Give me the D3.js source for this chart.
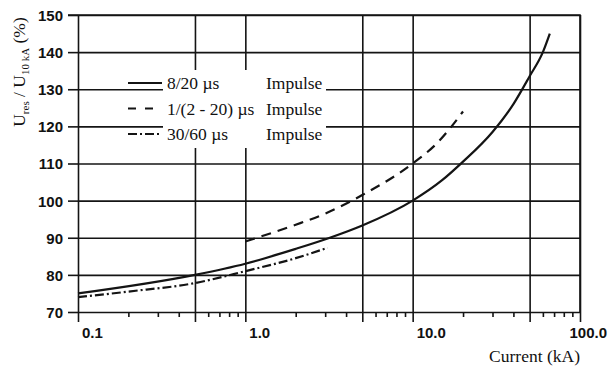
<!DOCTYPE html>
<html>
<head>
<meta charset="utf-8">
<script src="https://cdn.jsdelivr.net/npm/d3@7"></script>
<style>
  html, body { margin: 0; padding: 0; background: #fff; }
  svg { display: block; }
  .tick-label { font-family: "Liberation Sans", Arial, sans-serif; font-weight: bold; font-size: 15px; fill: #111; }
  .serif { font-family: "Liberation Serif", "Times New Roman", serif; font-size: 17.5px; fill: #111; }
</style>
</head>
<body>
<svg id="chart" width="609" height="367"></svg>
<script>
// Data (current in kA, residual voltage in %)
const current_8_20 = [0.1, 0.5, 1, 2, 3.2, 5, 10, 15, 20, 30, 40, 50, 60, 66];
const ures_8_20 = [75, 80, 83, 87, 90, 93.3, 100, 105.5, 110.5, 118.5, 126, 133.5, 140, 145];

const current_1_2_20 = [1, 2, 3, 5, 10, 14, 20];
const ures_1_2_20 = [89, 93.5, 96.5, 101.5, 110, 115.5, 124];

const current_30_60 = [0.1, 0.2, 0.5, 1, 2, 3.1];
const ures_30_60 = [74, 75.5, 77.8, 81, 84.5, 87.3];

const yTicks = [70, 80, 90, 100, 110, 120, 130, 140, 150];
const xGridTicks = [0.1, 0.5, 1, 5, 10, 50, 100];
const xLabelTicks = [0.1, 1, 10, 100];
const xLabels = ["0.1", "1.0", "10.0", "100.0"];
const xMinorTicks = [0.2, 0.3, 0.4, 0.6, 0.7, 0.8, 0.9, 2, 3, 4, 6, 7, 8, 9, 20, 30, 40, 60, 70, 80, 90];

const legendNames = ["8/20 \u00b5s", "1/(2 - 20) \u00b5s", "30/60 \u00b5s"];
const legendKind = "Impulse";

const width = 609, height = 367;
const margin = { top: 15, right: 29, bottom: 55, left: 78 };
const ink = "#141414";

const svg = d3.select("#chart");

const x = d3.scaleLog()
  .domain([0.1, 100])
  .range([margin.left, width - margin.right]);

const y = d3.scaleLinear()
  .domain([70, 150])
  .range([height - margin.bottom, margin.top]);

// Horizontal grid lines (stick out left as ticks)
svg.append("g")
  .attr("transform", `translate(${margin.left},0)`)
  .call(d3.axisLeft(y).tickValues(yTicks).tickSize(10).tickPadding(5).tickFormat(d3.format("d")))
  .call(g => g.select(".domain").remove())
  .call(g => g.selectAll(".tick line").clone()
    .attr("x2", width - margin.left - margin.right))
  .call(g => g.selectAll(".tick line").attr("stroke", ink).attr("stroke-width", 1.6))
  .call(g => g.selectAll(".tick text").attr("class", "tick-label").attr("dy", "0.36em"));

// Vertical grid lines (stick out down as ticks)
svg.append("g")
  .attr("transform", `translate(0,${height - margin.bottom})`)
  .call(d3.axisBottom(x).tickValues(xGridTicks).tickSize(10).tickFormat(() => ""))
  .call(g => g.select(".domain").remove())
  .call(g => g.selectAll(".tick line").clone()
    .attr("y2", -(height - margin.top - margin.bottom)))
  .call(g => g.selectAll(".tick line").attr("stroke", ink).attr("stroke-width", 1.6));

// Minor ticks
svg.append("g")
  .attr("transform", `translate(0,${height - margin.bottom})`)
  .call(d3.axisBottom(x).tickValues(xMinorTicks).tickSize(5).tickFormat(() => ""))
  .call(g => g.select(".domain").remove())
  .call(g => g.selectAll(".tick line").attr("stroke", ink).attr("stroke-width", 1.6));

// X tick labels sit just right of their line
svg.append("g")
  .selectAll("text")
  .data(xLabelTicks)
  .join("text")
  .attr("class", "tick-label")
  .attr("x", (d, i) => i === xLabelTicks.length - 1 ? width - 2 : x(d) + 4)
  .attr("y", height - margin.bottom + 26)
  .attr("text-anchor", (d, i) => i === xLabelTicks.length - 1 ? "end" : "start")
  .text((d, i) => xLabels[i]);

// Legend box hides the grid
const legendX = 128, legendY = 83, legendStep = 25.5;
svg.append("rect")
  .attr("x", 163).attr("y", 70)
  .attr("width", 163).attr("height", 78)
  .attr("fill", "#fff");

const series = [
  { xs: current_8_20, ys: ures_8_20, dash: null },
  { xs: current_1_2_20, ys: ures_1_2_20, dash: "10,7" },
  { xs: current_30_60, ys: ures_30_60, dash: "9,3,2,3" }
];

const line = d3.line()
  .x(d => x(d[0]))
  .y(d => y(d[1]))
  .curve(d3.curveMonotoneX);

series.forEach(s => {
  svg.append("path")
    .datum(d3.zip(s.xs, s.ys))
    .attr("fill", "none")
    .attr("stroke", ink)
    .attr("stroke-width", 2.2)
    .attr("stroke-dasharray", s.dash)
    .attr("d", line);
});

// Legend
const leg = svg.append("g");
series.forEach((s, i) => {
  const ly = legendY + i * legendStep;
  leg.append("line")
    .attr("x1", legendX).attr("x2", i === 1 ? legendX + 26 : legendX + 34)
    .attr("y1", ly).attr("y2", ly)
    .attr("stroke", ink)
    .attr("stroke-width", 2.2)
    .attr("stroke-dasharray", i === 1 ? "8,9" : s.dash);
  leg.append("text")
    .attr("class", "serif")
    .attr("x", 167).attr("y", ly + 6)
    .text(legendNames[i]);
  leg.append("text")
    .attr("class", "serif")
    .attr("x", 266).attr("y", ly + 6)
    .text(legendKind);
});

// Frame: top and right edges
svg.append("path")
  .attr("fill", "none")
  .attr("stroke", ink)
  .attr("stroke-width", 1.6)
  .attr("d", `M${margin.left - 10},${margin.top}H${width - margin.right}V${height - margin.bottom}`);

// Axis titles
const yTitle = svg.append("text")
  .attr("class", "serif")
  .attr("text-anchor", "middle")
  .attr("transform", `translate(25,${(margin.top + 127) / 2 + 1}) rotate(-90)`);
yTitle.append("tspan").text("U");
yTitle.append("tspan").attr("font-size", "11px").attr("dy", 4).text("res");
yTitle.append("tspan").attr("dy", -4).text(" / U");
yTitle.append("tspan").attr("font-size", "11px").attr("dy", 4).text("10 kA");
yTitle.append("tspan").attr("dy", -4).text(" (%)");

svg.append("text")
  .attr("class", "serif")
  .attr("x", width - margin.right)
  .attr("y", 362)
  .attr("text-anchor", "end")
  .text("Current (kA)");
</script>
</body>
</html>
